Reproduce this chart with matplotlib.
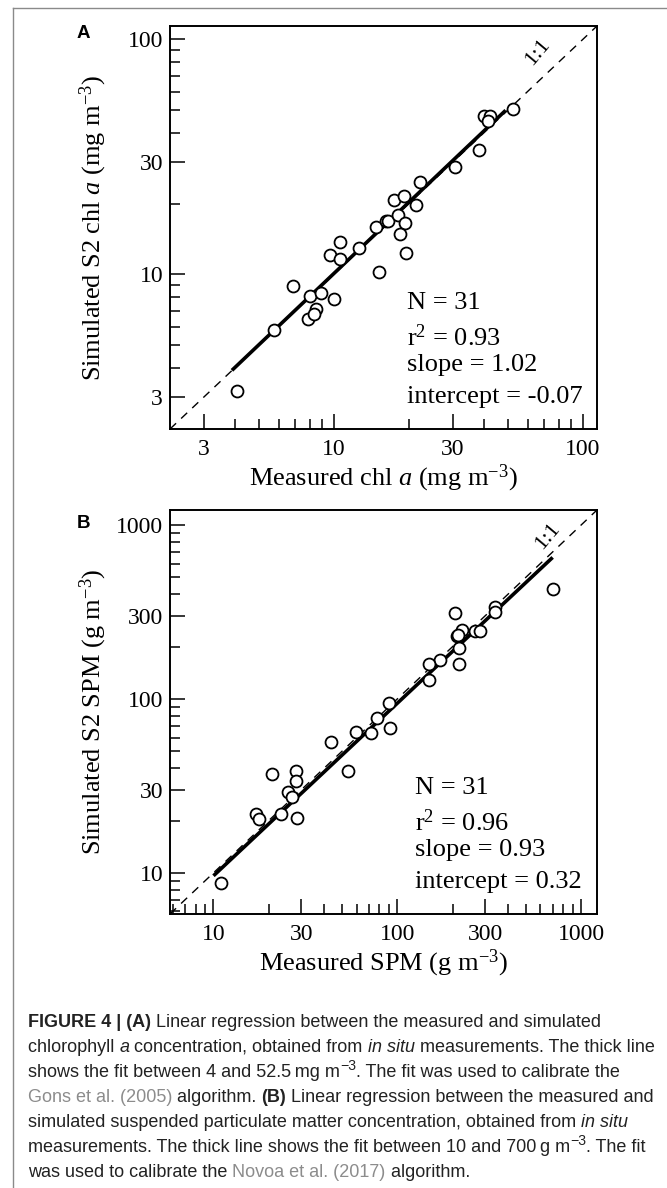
import matplotlib
matplotlib.use("Agg")
import matplotlib.pyplot as plt
from matplotlib.ticker import FixedLocator, LogLocator, NullFormatter, FixedFormatter
from matplotlib.lines import Line2D

plt.rcParams['font.family'] = ['Liberation Serif', 'DejaVu Serif']
plt.rcParams['mathtext.fontset'] = 'custom'
plt.rcParams['mathtext.rm'] = 'Liberation Serif'
plt.rcParams['mathtext.it'] = 'Liberation Serif:italic'
plt.rcParams['mathtext.bf'] = 'Liberation Serif:bold'

# panel A - chl a (mg m-3)
chl_measured = [4.07, 5.78, 6.85, 8.01, 7.89, 8.47, 8.32, 8.92, 10.03, 9.64,
                10.63, 10.57, 12.6, 15.2, 14.8, 16.2, 16.5, 17.5, 19.1, 18.1,
                19.4, 18.5, 19.5, 21.4, 22.1, 30.6, 38.4, 40.0, 42.3, 41.6, 52.3]
chl_simulated = [3.18, 5.82, 8.94, 8.08, 6.44, 7.13, 6.76, 8.30, 7.87, 12.05,
                 13.8, 11.66, 13.0, 10.2, 15.96, 16.9, 16.9, 20.7, 21.6, 17.9,
                 16.5, 14.8, 12.3, 19.7, 24.7, 28.7, 33.7, 47.3, 47.3, 44.9, 50.4]
chl_fit = (1.02, -0.07)          # slope, intercept
chl_fit_x = [3.9, 49.0]
chl_stats = ["N = 31", "r$^2$ = 0.93", "slope = 1.02", "intercept = -0.07"]
chl_ticks = [3, 10, 30, 100]
chl_lim = (2.2, 114)

# panel B - SPM (g m-3)
spm_measured = [701, 340, 340, 206, 224, 265, 282, 211, 216, 216,
                171, 148, 148, 89.8, 77.1, 91.6, 71.9, 59.6, 43.5, 53.7,
                20.8, 28.1, 28.1, 25.5, 26.7, 17.0, 17.7, 23.4, 28.5, 11.0, 213]
spm_simulated = [428, 338, 316, 314, 250, 245, 245, 230, 197, 159,
                 167, 159, 129, 94.4, 77.6, 67.8, 63.7, 64.3, 56.7, 38.6,
                 36.9, 38.6, 33.8, 29.3, 27.4, 21.7, 20.3, 21.7, 20.6, 8.75, 232]
spm_fit = (0.93, 0.32)
spm_fit_x = [10, 700]
spm_stats = ["N = 31", "r$^2$ = 0.96", "slope = 0.93", "intercept = 0.32"]
spm_ticks = [10, 30, 100, 300, 1000]
spm_lim = (5.8, 1220)

W, H = 667, 1188
fig = plt.figure(figsize=(W / 100, H / 100), dpi=100)

def fx(px):
    return px / W

def fy(py):
    return 1 - py / H


def panel(rect, xm, ym, fit, fit_x, stats, ticks, lim, xlabel, ylabel, letter, letter_y,
          stat_x, one_pos):
    ax = fig.add_axes(rect)
    ax.set_xscale('log')
    ax.set_yscale('log')
    ax.set_xlim(lim)
    ax.set_ylim(lim)
    # 1:1 line
    ax.plot(lim, lim, ls=(0, (6, 5)), color='black', lw=1.0, zorder=1)
    fy_ = [fit[0] * v + fit[1] for v in fit_x]
    ax.plot(fit_x, fy_, color='black', lw=2.6, solid_capstyle='butt', zorder=2)
    ax.plot(xm, ym, 'o', ms=8.6, mfc='white', mec='black', mew=1.3, zorder=3, ls='none')
    for a in (ax.xaxis, ax.yaxis):
        a.set_major_locator(FixedLocator(ticks))
        a.set_major_formatter(FixedFormatter([str(t) for t in ticks]))
        a.set_minor_locator(LogLocator(base=10, subs=range(2, 10)))
        a.set_minor_formatter(NullFormatter())
    ax.tick_params(which='both', direction='in', top=False, right=False, width=1.1, labelsize=17)
    ax.tick_params(which='major', length=11, pad=7)
    ax.tick_params(which='minor', length=7)
    ax.tick_params(axis='y', which='major', pad=5)
    for s in ax.spines.values():
        s.set_linewidth(1.4)
    ax.set_xlabel(xlabel, fontsize=19, labelpad=2)
    ax.set_ylabel(ylabel, fontsize=19)
    ax.yaxis.set_label_coords(-0.143, 0.5)
    ys = [0.313, 0.226, 0.159, 0.079]
    for t, yy in zip(stats, ys):
        ax.text(stat_x, yy, t, transform=ax.transAxes, fontsize=19, va='center', ha='left')
    ax.text(one_pos[0], one_pos[1], "1:1", transform=ax.transAxes, fontsize=16, rotation=50,
            ha='center', va='center')
    fig.text(fx(83), fy(letter_y), letter, fontsize=13.5, fontweight='bold',
             family=['Liberation Sans', 'DejaVu Sans'], ha='center', va='center')
    return ax


panel([fx(170), fy(429), fx(427), 403 / H], chl_measured, chl_simulated, chl_fit, chl_fit_x,
      chl_stats, chl_ticks, chl_lim, r'Measured chl $\mathit{a}$ (mg m$^{-3}$)',
      r'Simulated S2 chl $\mathit{a}$ (mg m$^{-3}$)', 'A', 33, 0.555, (0.862, 0.935))
panel([fx(170), fy(914), fx(427), 404 / H], spm_measured, spm_simulated, spm_fit, spm_fit_x,
      spm_stats, spm_ticks, spm_lim, r'Measured SPM (g m$^{-3}$)',
      r'Simulated S2 SPM (g m$^{-3}$)', 'B', 523, 0.574, (0.885, 0.935))

# frame around figure
fig.add_artist(Line2D([fx(13), 1], [fy(8), fy(8)], color='#8a8a8a', lw=1.0))
fig.add_artist(Line2D([fx(13), fx(13)], [0, fy(8)], color='#8a8a8a', lw=1.0))

# caption
cap_font = ['Liberation Sans', 'DejaVu Sans']
cap_size = 13.0
ink = '#222222'
link = '#8c8c8c'
N, B, I, G, S = 'n', 'b', 'i', 'g', 's'
caption = [
    [("FIGURE 4 | (A)", B), (" Linear regression between the measured and simulated", N)],
    [("chlorophyll ", N), ("a", I), (" concentration, obtained from ", N), ("in situ", I),
     (" measurements. The thick line", N)],
    [("shows the fit between 4 and 52.5\u2009mg m", N), ("\u22123", S),
     (". The fit was used to calibrate the", N)],
    [("Gons et al. (2005)", G), (" algorithm. ", N), ("(B)", B),
     (" Linear regression between the measured and", N)],
    [("simulated suspended particulate matter concentration, obtained from ", N), ("in situ", I)],
    [("measurements. The thick line shows the fit between 10 and 700\u2009g m", N), ("\u22123", S),
     (". The fit", N)],
    [("was used to calibrate the ", N), ("Novoa et al. (2017)", G), (" algorithm.", N)],
]

renderer = fig.canvas.get_renderer()


def seg_width(s, **kw):
    t1 = fig.text(0, 0, s + "|", **kw)
    t2 = fig.text(0, 0, "|", **kw)
    w = t1.get_window_extent(renderer).width - t2.get_window_extent(renderer).width
    t1.remove()
    t2.remove()
    return w


for i, line in enumerate(caption):
    x = 28
    base = 1026.7 + 25 * i
    for s, style in line:
        kw = dict(family=cap_font, fontsize=cap_size, color=ink)
        yb = base
        if style == B:
            kw['fontweight'] = 'bold'
        elif style == I:
            kw['style'] = 'italic'
        elif style == G:
            kw['color'] = link
        elif style == S:
            kw['fontsize'] = cap_size * 0.78
            yb = base - 7
        fig.text(fx(x), fy(yb), s, va='baseline', ha='left', **kw)
        x += seg_width(s, **kw)

fig.savefig("out.png", dpi=100)
